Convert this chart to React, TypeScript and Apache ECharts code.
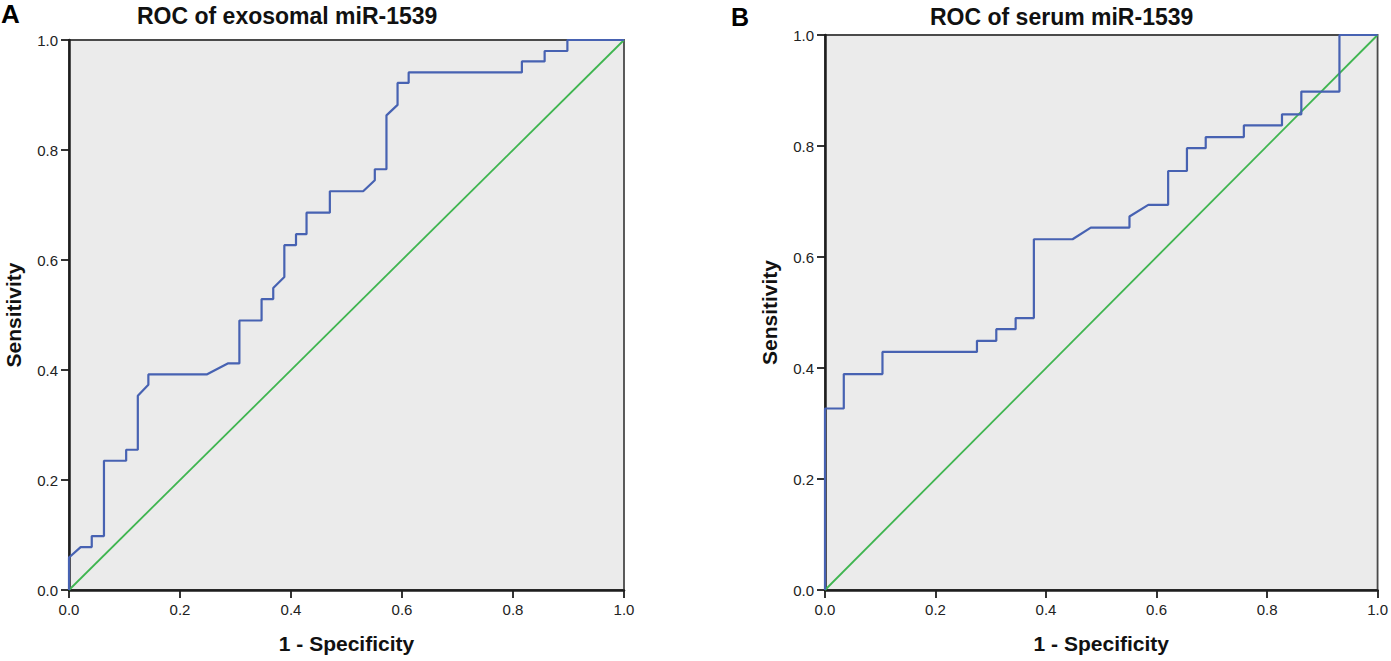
import React, { useEffect, useRef } from "react";
import * as echarts from "echarts";

// Panel A: ROC of exosomal miR-1539
const fprA = [0, 0, 0.021, 0.041, 0.041, 0.063, 0.063, 0.103, 0.103, 0.124, 0.124, 0.143, 0.143, 0.248, 0.286, 0.307, 0.307, 0.347, 0.347, 0.368, 0.368, 0.388, 0.388, 0.409, 0.409, 0.428, 0.428, 0.47, 0.47, 0.53, 0.551, 0.551, 0.572, 0.572, 0.592, 0.592, 0.612, 0.612, 0.816, 0.816, 0.857, 0.857, 0.898, 0.898, 1.0];
const tprA = [0, 0.059, 0.078, 0.078, 0.098, 0.098, 0.235, 0.235, 0.255, 0.255, 0.353, 0.373, 0.392, 0.392, 0.412, 0.412, 0.49, 0.49, 0.529, 0.529, 0.549, 0.569, 0.627, 0.627, 0.647, 0.647, 0.686, 0.686, 0.725, 0.725, 0.745, 0.765, 0.765, 0.863, 0.882, 0.922, 0.922, 0.941, 0.941, 0.961, 0.961, 0.98, 0.98, 1.0, 1.0];

// Panel B: ROC of serum miR-1539
const fprB = [0, 0, 0.034, 0.034, 0.104, 0.104, 0.275, 0.275, 0.31, 0.31, 0.345, 0.345, 0.378, 0.378, 0.448, 0.481, 0.551, 0.551, 0.585, 0.621, 0.621, 0.655, 0.655, 0.689, 0.689, 0.758, 0.758, 0.827, 0.827, 0.862, 0.862, 0.931, 0.931, 1.0];
const tprB = [0, 0.327, 0.327, 0.389, 0.389, 0.429, 0.429, 0.449, 0.449, 0.47, 0.47, 0.49, 0.49, 0.632, 0.632, 0.653, 0.653, 0.673, 0.694, 0.694, 0.755, 0.755, 0.796, 0.796, 0.816, 0.816, 0.837, 0.837, 0.857, 0.857, 0.898, 0.898, 1.0, 1.0];

// Reference line
const refX = [0, 1];
const refY = [0, 1];

const titles = ["ROC of exosomal miR-1539", "ROC of serum miR-1539"];
const panelLetters = ["A", "B"];
const xName = "1 - Specificity";
const yName = "Sensitivity";

const FONT = 'Arial, "Liberation Sans", sans-serif';
const BLUE = "#4762b2";
const GREEN = "#3fb550";
const AXIS = "#1e1e1e";

const zip = (xs: number[], ys: number[]) => xs.map((x, i) => [x, ys[i]]);

function axisCommon(name: string, isX: boolean, gridIndex: number) {
  return {
    type: "value",
    gridIndex,
    min: 0,
    max: 1,
    interval: 0.2,
    name,
    nameLocation: "middle",
    nameGap: isX ? 43 : 45,
    nameTextStyle: { fontFamily: FONT, fontSize: 21, fontWeight: "bold", color: "#111" },
    axisLine: { show: true, onZero: false, lineStyle: { color: AXIS, width: 2.5 } },
    axisTick: { show: true, inside: false, length: 8, lineStyle: { color: AXIS, width: 1.8 } },
    axisLabel: {
      fontFamily: FONT,
      fontSize: 15,
      color: "#222",
      margin: isX ? 12 : 11,
      formatter: (v: number) => v.toFixed(1),
      showMinLabel: true,
      showMaxLabel: true,
    },
    splitLine: { show: false },
  };
}

export default function App() {
  const ref = useRef<HTMLDivElement>(null);
  useEffect(() => {
    if (!ref.current) return;
    const chart = echarts.init(ref.current, undefined, { renderer: "svg" });
    const gridStyle = {
      show: true,
      backgroundColor: "#ebebeb",
      borderColor: "#4a4a4a",
      borderWidth: 1.8,
      containLabel: false,
    };
    chart.setOption({
      animation: false,
      backgroundColor: "#ffffff",
      grid: [
        { ...gridStyle, left: 69, top: 40, width: 555, height: 550 },
        { ...gridStyle, left: 825, top: 35, width: 554, height: 555 },
      ],
      xAxis: [axisCommon(xName, true, 0), axisCommon(xName, true, 1)],
      yAxis: [axisCommon(yName, false, 0), axisCommon(yName, false, 1)],
      series: [
        {
          type: "line",
          xAxisIndex: 0,
          yAxisIndex: 0,
          data: zip(refX, refY),
          symbol: "none",
          lineStyle: { color: GREEN, width: 1.8 },
          z: 2,
        },
        {
          type: "line",
          xAxisIndex: 0,
          yAxisIndex: 0,
          data: zip(fprA, tprA),
          symbol: "none",
          lineStyle: { color: BLUE, width: 2.2 },
          z: 3,
        },
        {
          type: "line",
          xAxisIndex: 1,
          yAxisIndex: 1,
          data: zip(refX, refY),
          symbol: "none",
          lineStyle: { color: GREEN, width: 1.8 },
          z: 2,
        },
        {
          type: "line",
          xAxisIndex: 1,
          yAxisIndex: 1,
          data: zip(fprB, tprB),
          symbol: "none",
          lineStyle: { color: BLUE, width: 2.2 },
          z: 3,
        },
      ],
      graphic: [
        {
          type: "text",
          left: 137,
          top: 4,
          style: { text: titles[0], font: `bold 23px ${FONT}`, fill: "#111" },
        },
        {
          type: "text",
          left: 930,
          top: 5,
          style: { text: titles[1], font: `bold 23px ${FONT}`, fill: "#111" },
        },
        {
          type: "text",
          left: 1,
          top: 1,
          style: { text: panelLetters[0], font: `bold 26px ${FONT}`, fill: "#000" },
        },
        {
          type: "text",
          left: 731,
          top: 4,
          style: { text: panelLetters[1], font: `bold 25px ${FONT}`, fill: "#000" },
        },
      ],
    });
    return () => chart.dispose();
  }, []);
  return (
    <div
      ref={ref}
      style={{ position: "absolute", left: 0, top: 0, width: 1391, height: 661 }}
    />
  );
}
